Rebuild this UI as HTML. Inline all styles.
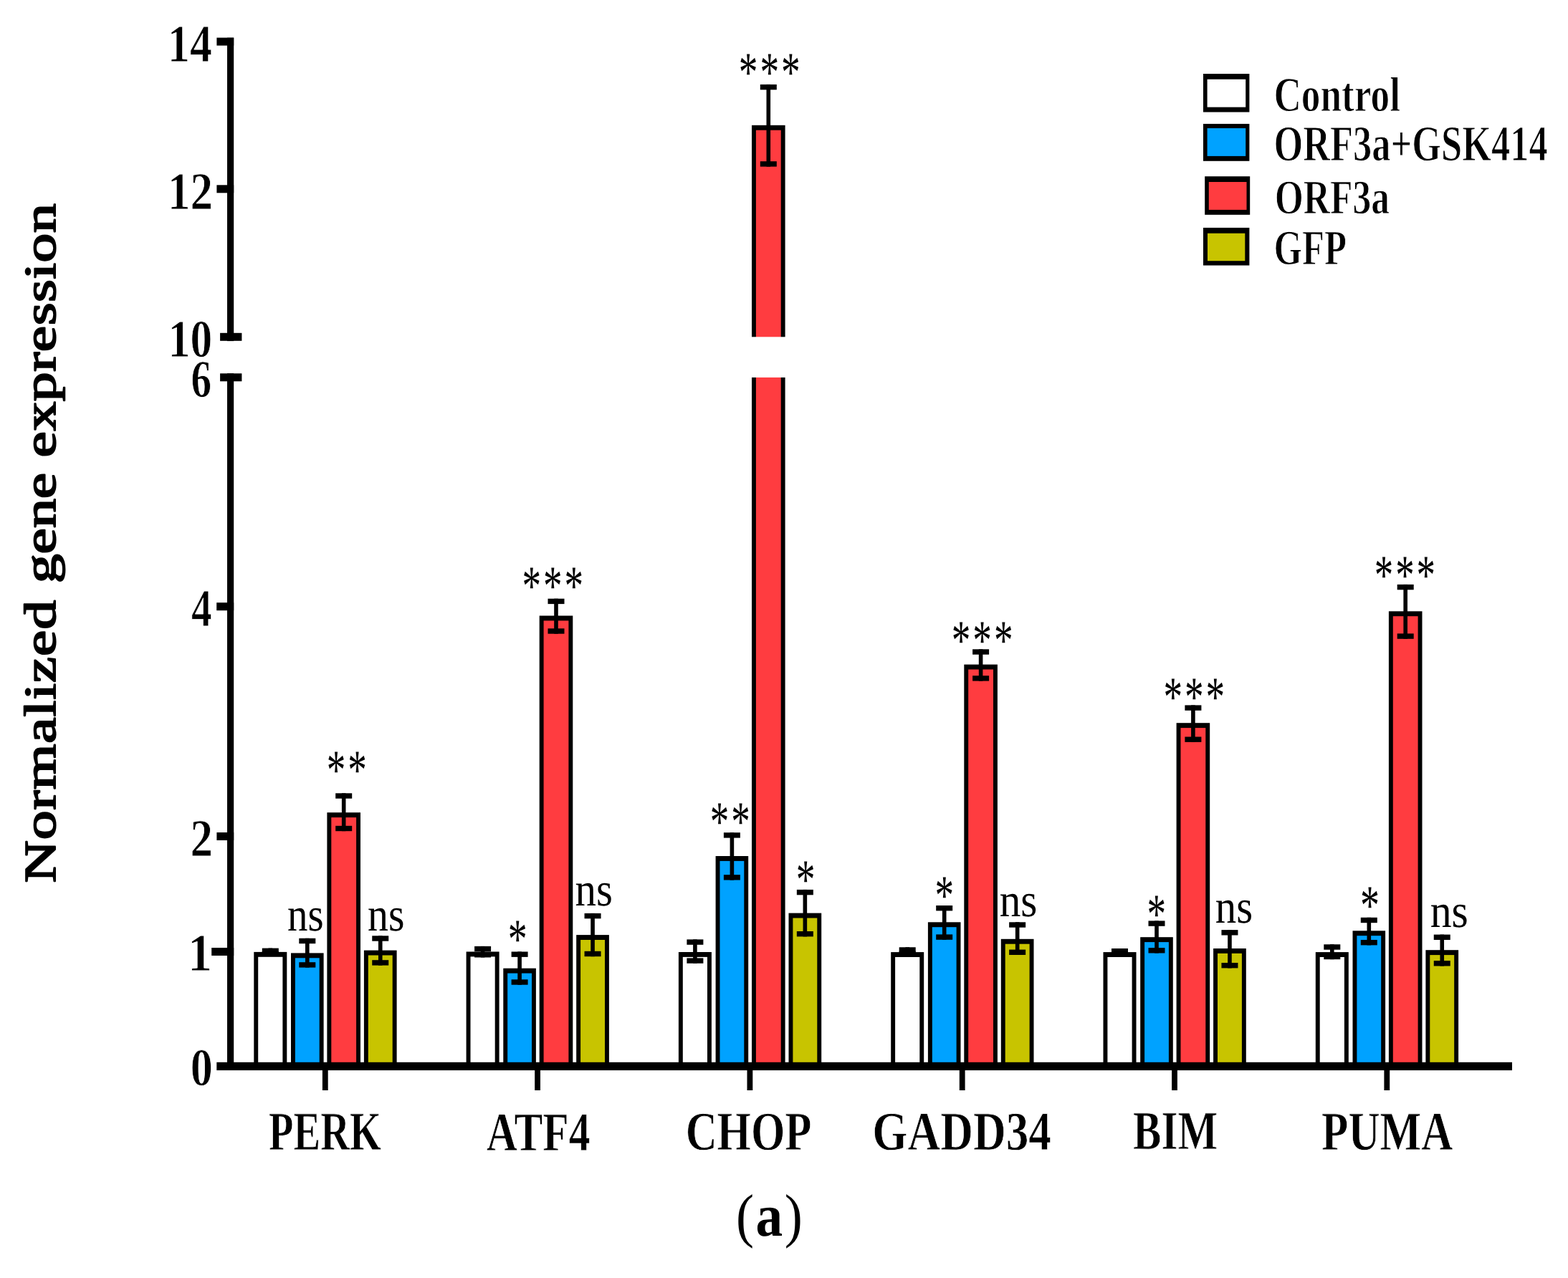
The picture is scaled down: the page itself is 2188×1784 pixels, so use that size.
<!DOCTYPE html>
<html lang="en">
<head>
<meta charset="utf-8">
<title>Normalized gene expression</title>
<style>
html,body{margin:0;padding:0;background:#fff;}
body{width:2188px;height:1784px;font-family:"Liberation Serif", serif;}
svg{display:block;}
</style>
</head>
<body>
<svg width="2188" height="1784" viewBox="0 0 2188 1784" font-family='"Liberation Serif", serif' font-size="100" fill="#000" text-rendering="geometricPrecision" role="img" aria-label="Bar chart of normalized gene expression">
<g>
<rect x="0" y="0" width="2188" height="1784" fill="#fff"/>
<g shape-rendering="geometricPrecision">
<rect x="354.30" y="1328.90" width="46.00" height="159.60"/>
<rect x="360.20" y="1335.80" width="34.20" height="152.70" fill="#ffffff"/>
<rect x="374.50" y="1323.60" width="5.6" height="11.40"/>
<rect x="365.80" y="1323.60" width="23.0" height="7.4"/>
<rect x="365.80" y="1327.60" width="23.0" height="7.4"/>
<rect x="406.00" y="1330.40" width="45.60" height="158.10"/>
<rect x="411.90" y="1337.30" width="33.80" height="151.20" fill="#00a2ff"/>
<rect x="426.00" y="1309.80" width="5.6" height="40.80"/>
<rect x="417.30" y="1309.80" width="23.0" height="7.4"/>
<rect x="417.30" y="1343.20" width="23.0" height="7.4"/>
<rect x="456.40" y="1134.20" width="46.60" height="354.30"/>
<rect x="462.30" y="1141.10" width="34.80" height="347.40" fill="#ff3c40"/>
<rect x="476.90" y="1107.30" width="5.6" height="52.90"/>
<rect x="468.20" y="1107.30" width="23.0" height="7.4"/>
<rect x="468.20" y="1152.80" width="23.0" height="7.4"/>
<rect x="507.90" y="1326.60" width="45.70" height="161.90"/>
<rect x="513.80" y="1333.50" width="33.90" height="155.00" fill="#c8c400"/>
<rect x="527.95" y="1306.30" width="5.6" height="41.30"/>
<rect x="519.25" y="1306.30" width="23.0" height="7.4"/>
<rect x="519.25" y="1340.20" width="23.0" height="7.4"/>
<rect x="650.60" y="1328.50" width="46.00" height="160.00"/>
<rect x="656.50" y="1335.40" width="34.20" height="153.10" fill="#ffffff"/>
<rect x="670.80" y="1320.90" width="5.6" height="15.60"/>
<rect x="662.10" y="1320.90" width="23.0" height="7.4"/>
<rect x="662.10" y="1329.10" width="23.0" height="7.4"/>
<rect x="702.30" y="1351.70" width="45.60" height="136.80"/>
<rect x="708.20" y="1358.60" width="33.80" height="129.90" fill="#00a2ff"/>
<rect x="722.30" y="1328.50" width="5.6" height="46.20"/>
<rect x="713.60" y="1328.50" width="23.0" height="7.4"/>
<rect x="713.60" y="1367.30" width="23.0" height="7.4"/>
<rect x="752.70" y="859.50" width="46.60" height="629.00"/>
<rect x="758.60" y="866.40" width="34.80" height="622.10" fill="#ff3c40"/>
<rect x="773.20" y="835.70" width="5.6" height="49.00"/>
<rect x="764.50" y="835.70" width="23.0" height="7.4"/>
<rect x="764.50" y="877.30" width="23.0" height="7.4"/>
<rect x="804.20" y="1305.10" width="45.70" height="183.40"/>
<rect x="810.10" y="1312.00" width="33.90" height="176.50" fill="#c8c400"/>
<rect x="824.25" y="1274.90" width="5.6" height="60.30"/>
<rect x="815.55" y="1274.90" width="23.0" height="7.4"/>
<rect x="815.55" y="1327.80" width="23.0" height="7.4"/>
<rect x="946.90" y="1329.00" width="46.00" height="159.50"/>
<rect x="952.80" y="1335.90" width="34.20" height="152.60" fill="#ffffff"/>
<rect x="967.10" y="1311.40" width="5.6" height="33.40"/>
<rect x="958.40" y="1311.40" width="23.0" height="7.4"/>
<rect x="958.40" y="1337.40" width="23.0" height="7.4"/>
<rect x="998.60" y="1195.00" width="45.60" height="293.50"/>
<rect x="1004.50" y="1201.90" width="33.80" height="286.60" fill="#00a2ff"/>
<rect x="1018.60" y="1162.20" width="5.6" height="66.30"/>
<rect x="1009.90" y="1162.20" width="23.0" height="7.4"/>
<rect x="1009.90" y="1221.10" width="23.0" height="7.4"/>
<rect x="1049.00" y="174.80" width="46.60" height="1313.70"/>
<rect x="1054.90" y="181.70" width="34.80" height="1306.80" fill="#ff3c40"/>
<rect x="1069.50" y="117.90" width="5.6" height="114.70"/>
<rect x="1060.80" y="117.90" width="23.0" height="7.4"/>
<rect x="1060.80" y="225.20" width="23.0" height="7.4"/>
<rect x="1100.50" y="1274.60" width="45.70" height="213.90"/>
<rect x="1106.40" y="1281.50" width="33.90" height="207.00" fill="#c8c400"/>
<rect x="1120.55" y="1241.90" width="5.6" height="65.50"/>
<rect x="1111.85" y="1241.90" width="23.0" height="7.4"/>
<rect x="1111.85" y="1300.00" width="23.0" height="7.4"/>
<rect x="1243.20" y="1329.10" width="46.00" height="159.40"/>
<rect x="1249.10" y="1336.00" width="34.20" height="152.50" fill="#ffffff"/>
<rect x="1263.40" y="1322.30" width="5.6" height="12.70"/>
<rect x="1254.70" y="1322.30" width="23.0" height="7.4"/>
<rect x="1254.70" y="1327.60" width="23.0" height="7.4"/>
<rect x="1294.90" y="1287.30" width="45.60" height="201.20"/>
<rect x="1300.80" y="1294.20" width="33.80" height="194.30" fill="#00a2ff"/>
<rect x="1314.90" y="1264.00" width="5.6" height="47.80"/>
<rect x="1306.20" y="1264.00" width="23.0" height="7.4"/>
<rect x="1306.20" y="1304.40" width="23.0" height="7.4"/>
<rect x="1345.30" y="927.60" width="46.60" height="560.90"/>
<rect x="1351.20" y="934.50" width="34.80" height="554.00" fill="#ff3c40"/>
<rect x="1365.80" y="906.30" width="5.6" height="44.30"/>
<rect x="1357.10" y="906.30" width="23.0" height="7.4"/>
<rect x="1357.10" y="943.20" width="23.0" height="7.4"/>
<rect x="1396.80" y="1310.80" width="45.70" height="177.70"/>
<rect x="1402.70" y="1317.70" width="33.90" height="170.80" fill="#c8c400"/>
<rect x="1416.85" y="1287.30" width="5.6" height="45.70"/>
<rect x="1408.15" y="1287.30" width="23.0" height="7.4"/>
<rect x="1408.15" y="1325.60" width="23.0" height="7.4"/>
<rect x="1539.50" y="1329.10" width="46.00" height="159.40"/>
<rect x="1545.40" y="1336.00" width="34.20" height="152.50" fill="#ffffff"/>
<rect x="1559.70" y="1324.00" width="5.6" height="11.00"/>
<rect x="1551.00" y="1324.00" width="23.0" height="7.4"/>
<rect x="1551.00" y="1327.60" width="23.0" height="7.4"/>
<rect x="1591.20" y="1308.20" width="45.60" height="180.30"/>
<rect x="1597.10" y="1315.10" width="33.80" height="173.40" fill="#00a2ff"/>
<rect x="1611.20" y="1285.40" width="5.6" height="45.10"/>
<rect x="1602.50" y="1285.40" width="23.0" height="7.4"/>
<rect x="1602.50" y="1323.10" width="23.0" height="7.4"/>
<rect x="1641.60" y="1009.20" width="46.60" height="479.30"/>
<rect x="1647.50" y="1016.10" width="34.80" height="472.40" fill="#ff3c40"/>
<rect x="1662.10" y="984.40" width="5.6" height="51.50"/>
<rect x="1653.40" y="984.40" width="23.0" height="7.4"/>
<rect x="1653.40" y="1028.50" width="23.0" height="7.4"/>
<rect x="1693.10" y="1324.00" width="45.70" height="164.50"/>
<rect x="1699.00" y="1330.90" width="33.90" height="157.60" fill="#c8c400"/>
<rect x="1713.15" y="1298.10" width="5.6" height="53.30"/>
<rect x="1704.45" y="1298.10" width="23.0" height="7.4"/>
<rect x="1704.45" y="1344.00" width="23.0" height="7.4"/>
<rect x="1835.80" y="1329.10" width="46.00" height="159.40"/>
<rect x="1841.70" y="1336.00" width="34.20" height="152.50" fill="#ffffff"/>
<rect x="1856.00" y="1318.30" width="5.6" height="20.90"/>
<rect x="1847.30" y="1318.30" width="23.0" height="7.4"/>
<rect x="1847.30" y="1331.80" width="23.0" height="7.4"/>
<rect x="1887.50" y="1299.30" width="45.60" height="189.20"/>
<rect x="1893.40" y="1306.20" width="33.80" height="182.30" fill="#00a2ff"/>
<rect x="1907.50" y="1280.80" width="5.6" height="38.60"/>
<rect x="1898.80" y="1280.80" width="23.0" height="7.4"/>
<rect x="1898.80" y="1312.00" width="23.0" height="7.4"/>
<rect x="1937.90" y="853.30" width="46.60" height="635.20"/>
<rect x="1943.80" y="860.20" width="34.80" height="628.30" fill="#ff3c40"/>
<rect x="1958.40" y="815.90" width="5.6" height="75.90"/>
<rect x="1949.70" y="815.90" width="23.0" height="7.4"/>
<rect x="1949.70" y="884.40" width="23.0" height="7.4"/>
<rect x="1989.40" y="1326.20" width="45.70" height="162.30"/>
<rect x="1995.30" y="1333.10" width="33.90" height="155.40" fill="#c8c400"/>
<rect x="2009.45" y="1304.60" width="5.6" height="43.90"/>
<rect x="2000.75" y="1304.60" width="23.0" height="7.4"/>
<rect x="2000.75" y="1341.10" width="23.0" height="7.4"/>
<rect x="1040" y="470.3" width="64" height="56.6" fill="#fff"/>
<rect x="317" y="52.7" width="9.2" height="423.4"/>
<rect x="317" y="521.2" width="9.2" height="968"/>
<rect x="302.4" y="52.60" width="23.80" height="11"/>
<rect x="302.4" y="258.30" width="23.80" height="11"/>
<rect x="307.1" y="464.80" width="30.30" height="11"/>
<rect x="307.1" y="521.30" width="30.30" height="11"/>
<rect x="302.2" y="841.20" width="24.00" height="11"/>
<rect x="302.4" y="1162.00" width="23.80" height="11"/>
<rect x="295.2" y="1323.00" width="31.00" height="11"/>
<rect x="302.3" y="1482.8" width="1807.7" height="11.3"/>
<rect x="449.90" y="1490" width="7.8" height="32"/>
<rect x="746.20" y="1490" width="7.8" height="32"/>
<rect x="1042.50" y="1490" width="7.8" height="32"/>
<rect x="1338.80" y="1490" width="7.8" height="32"/>
<rect x="1635.10" y="1490" width="7.8" height="32"/>
<rect x="1931.40" y="1490" width="7.8" height="32"/>
<rect x="1679.00" y="103.00" width="64.40" height="53.50"/>
<rect x="1684.60" y="110.70" width="53.60" height="38.90" fill="#ffffff"/>
<rect x="1679.00" y="172.90" width="64.40" height="51.90"/>
<rect x="1684.60" y="179.00" width="53.60" height="38.90" fill="#00a2ff"/>
<rect x="1681.20" y="246.20" width="63.00" height="53.60"/>
<rect x="1686.80" y="254.00" width="52.70" height="38.90" fill="#ff3c40"/>
<rect x="1679.00" y="317.90" width="64.40" height="52.60"/>
<rect x="1685.00" y="325.70" width="52.30" height="38.50" fill="#c8c400"/>
</g>
<g>
<text transform="matrix(0.6190 0 0 0.7435 234.06 85.68)" font-weight="bold" stroke="#fff" stroke-width="1.2" stroke-linejoin="round" vector-effect="non-scaling-stroke">14</text>
<text transform="matrix(0.6299 0 0 0.7435 233.98 292.48)" font-weight="bold" stroke="#fff" stroke-width="1.2" stroke-linejoin="round" vector-effect="non-scaling-stroke">12</text>
<text transform="matrix(0.6142 0 0 0.7435 234.80 498.20)" font-weight="bold" stroke="#fff" stroke-width="1.2" stroke-linejoin="round" vector-effect="non-scaling-stroke">10</text>
<text transform="matrix(0.5716 0 0 0.7435 266.61 554.05)" font-weight="bold" stroke="#fff" stroke-width="1.2" stroke-linejoin="round" vector-effect="non-scaling-stroke">6</text>
<text transform="matrix(0.5739 0 0 0.7435 267.10 874.48)" font-weight="bold" stroke="#fff" stroke-width="1.2" stroke-linejoin="round" vector-effect="non-scaling-stroke">4</text>
<text transform="matrix(0.6286 0 0 0.7435 265.44 1194.98)" font-weight="bold" stroke="#fff" stroke-width="1.2" stroke-linejoin="round" vector-effect="non-scaling-stroke">2</text>
<text transform="matrix(0.6800 0 0 0.7435 262.09 1354.78)" font-weight="bold" stroke="#fff" stroke-width="1.2" stroke-linejoin="round" vector-effect="non-scaling-stroke">1</text>
<text transform="matrix(0.6217 0 0 0.7435 265.76 1515.00)" font-weight="bold" stroke="#fff" stroke-width="1.2" stroke-linejoin="round" vector-effect="non-scaling-stroke">0</text>
<text transform="matrix(0.5648 0 0 0.7662 375.12 1605.04)" font-weight="bold" stroke="#fff" stroke-width="1" stroke-linejoin="round" vector-effect="non-scaling-stroke">PERK</text>
<text transform="matrix(0.5971 0 0 0.7662 678.80 1605.64)" font-weight="bold" stroke="#fff" stroke-width="1" stroke-linejoin="round" vector-effect="non-scaling-stroke">ATF4</text>
<text transform="matrix(0.6089 0 0 0.7662 956.65 1605.44)" font-weight="bold" stroke="#fff" stroke-width="1" stroke-linejoin="round" vector-effect="non-scaling-stroke">CHOP</text>
<text transform="matrix(0.6329 0 0 0.7662 1217.33 1605.44)" font-weight="bold" stroke="#fff" stroke-width="1" stroke-linejoin="round" vector-effect="non-scaling-stroke">GADD34</text>
<text transform="matrix(0.5911 0 0 0.7662 1581.08 1604.44)" font-weight="bold" stroke="#fff" stroke-width="1" stroke-linejoin="round" vector-effect="non-scaling-stroke">BIM</text>
<text transform="matrix(0.6117 0 0 0.7662 1844.04 1605.04)" font-weight="bold" stroke="#fff" stroke-width="1" stroke-linejoin="round" vector-effect="non-scaling-stroke">PUMA</text>
<text transform="matrix(0.5326 0 0 0.6845 1777.40 155.33)" font-weight="bold" stroke="#fff" stroke-width="1.6" stroke-linejoin="round" vector-effect="non-scaling-stroke">Control</text>
<text transform="matrix(0.5241 0 0 0.7025 1777.44 224.00)" font-weight="bold" stroke="#fff" stroke-width="1.6" stroke-linejoin="round" vector-effect="non-scaling-stroke">ORF3a+GSK414</text>
<text transform="matrix(0.5147 0 0 0.6778 1778.79 298.34)" font-weight="bold" stroke="#fff" stroke-width="1.6" stroke-linejoin="round" vector-effect="non-scaling-stroke">ORF3a</text>
<text transform="matrix(0.5079 0 0 0.6938 1777.52 369.02)" font-weight="bold" stroke="#fff" stroke-width="1.6" stroke-linejoin="round" vector-effect="non-scaling-stroke">GFP</text>
<text transform="matrix(0.5689 0 0 0.6647 401.11 1299.33)">ns</text>
<text transform="matrix(0.5316 0 0 0.7864 455.81 1101.16)" letter-spacing="5.50">**</text>
<text transform="matrix(0.5784 0 0 0.6647 513.10 1299.33)">ns</text>
<text transform="matrix(0.5391 0 0 0.7864 708.87 1337.26)" letter-spacing="5.50">*</text>
<text transform="matrix(0.5309 0 0 0.7864 728.51 843.66)" letter-spacing="5.50">***</text>
<text transform="matrix(0.5890 0 0 0.6647 802.58 1264.28)">ns</text>
<text transform="matrix(0.5306 0 0 0.7864 990.81 1173.06)" letter-spacing="5.50">**</text>
<text transform="matrix(0.5329 0 0 0.7864 1030.80 126.96)" letter-spacing="5.50">***</text>
<text transform="matrix(0.5366 0 0 0.7864 1110.68 1254.21)" letter-spacing="5.50">*</text>
<text transform="matrix(0.5317 0 0 0.7864 1304.41 1276.01)" letter-spacing="5.50">*</text>
<text transform="matrix(0.5322 0 0 0.7864 1327.81 920.41)" letter-spacing="5.50">***</text>
<text transform="matrix(0.5926 0 0 0.6647 1394.67 1278.53)">ns</text>
<text transform="matrix(0.5317 0 0 0.7864 1600.51 1302.01)" letter-spacing="5.50">*</text>
<text transform="matrix(0.5322 0 0 0.7864 1623.51 998.56)" letter-spacing="5.50">***</text>
<text transform="matrix(0.5890 0 0 0.6647 1695.68 1288.13)">ns</text>
<text transform="matrix(0.5391 0 0 0.7864 1897.97 1289.81)" letter-spacing="5.50">*</text>
<text transform="matrix(0.5289 0 0 0.7864 1917.82 829.26)" letter-spacing="5.50">***</text>
<text transform="matrix(0.5973 0 0 0.6647 1995.67 1293.88)">ns</text>
<text transform="matrix(0.7527 0 0 0.8360 0.00 1724.59)"><tspan x="1364.52">(</tspan><tspan x="1400.98" font-weight="bold">a</tspan><tspan x="1454.32">)</tspan></text>
<text transform="matrix(0 -0.8184 0.6238 0 76.62 1231.80)" stroke="#000" stroke-width="3.2" stroke-linejoin="round" vector-effect="non-scaling-stroke"><tspan x="-0.49" letter-spacing="1.09">Normalized</tspan> <tspan x="510.15">gene</tspan> <tspan x="725.07" letter-spacing="0.57">expression</tspan></text>
</g>
</g>
</svg>
</body>
</html>
